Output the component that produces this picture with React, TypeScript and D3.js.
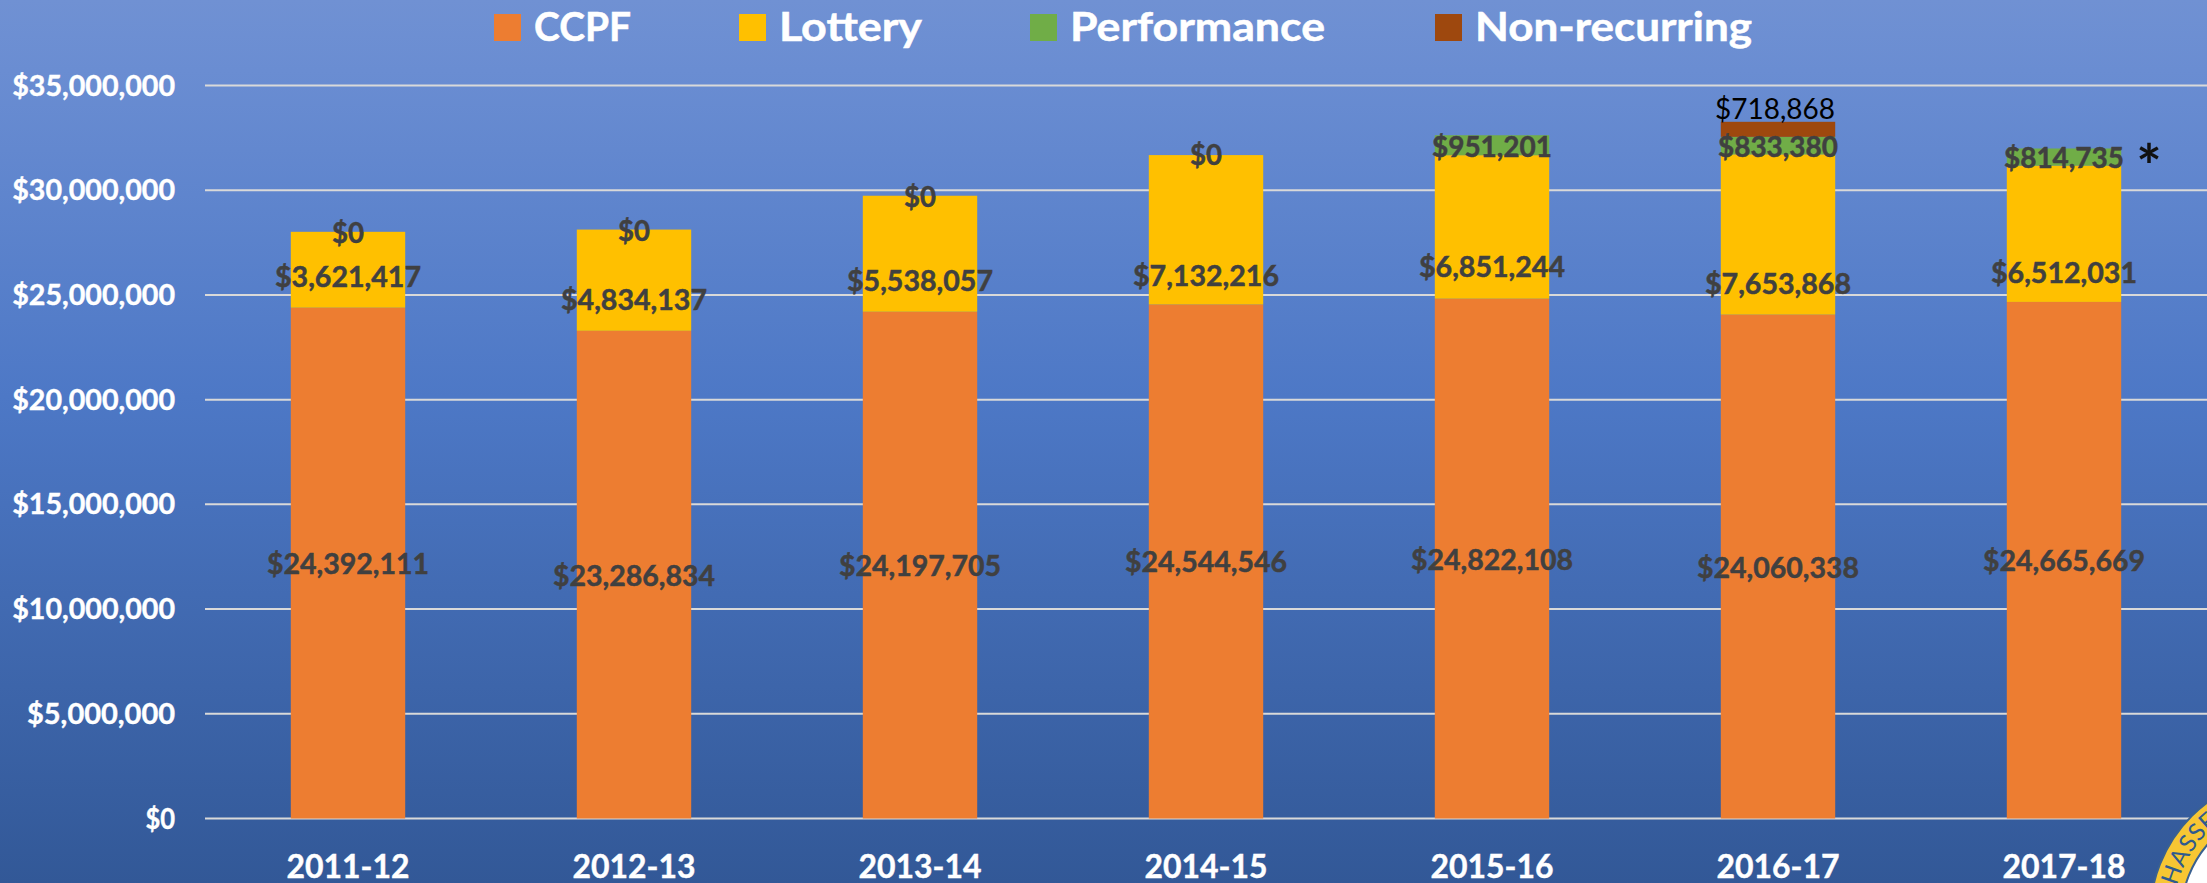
import React from "react";
import * as d3 from "d3";

const W = 2207, H = 883;
const years = ["2011-12", "2012-13", "2013-14", "2014-15", "2015-16", "2016-17", "2017-18"];
const ccpf = [24392111, 23286834, 24197705, 24544546, 24822108, 24060338, 24665669];
const lottery = [3621417, 4834137, 5538057, 7132216, 6851244, 7653868, 6512031];
const performance_ = [0, 0, 0, 0, 951201, 833380, 814735];
const nonRecurring = [0, 0, 0, 0, 0, 718868, 0];
const yTicks = [0, 5000000, 10000000, 15000000, 20000000, 25000000, 30000000, 35000000];
const seriesNames = ["CCPF", "Lottery", "Performance", "Non-recurring"];
const seriesColors = ["#ED7D31", "#FFC000", "#70AD47", "#9E480E"];
const legendX = [494, 739, 1030, 1435];
const legendTextW = [97, 143, 255, 277];
const lotteryNudge = [7, 20, 27, 46, 40, 50, 39];
const perfLabelY = [243, 241, 207, 165, 157, 157, 168];

const font = "Lato, 'Open Sans', sans-serif";
const money = (v: number) => "$" + d3.format(",")(v);

export default function App() {
  const x = d3.scaleBand<string>().domain(years).range([205, 2207]).paddingInner(0.6).paddingOuter(0.3);
  const y = d3.scaleLinear().domain([0, 35000000]).range([818.5, 85.5]);
  const rows = years.map((year, i) => ({ year, CCPF: ccpf[i], Lottery: lottery[i], Performance: performance_[i], "Non-recurring": nonRecurring[i] }));
  const stacked = d3.stack<any>().keys(seriesNames)(rows);
  const sealArc = d3.path();
  sealArc.arc(2292, 916.5, 119, (160 * Math.PI) / 180, (320 * Math.PI) / 180, false);

  return (
    <svg width={W} height={H} style={{ position: "absolute", left: 0, top: 0, display: "block" }} fontFamily={font}>
      <defs>
        <linearGradient id="bg" x1="0" y1="0" x2="0" y2="1">
          <stop offset="0" stopColor="#7091D3" />
          <stop offset="0.08" stopColor="#6A8DD2" />
          <stop offset="0.45" stopColor="#4D78C6" />
          <stop offset="1" stopColor="#325897" />
        </linearGradient>
        <path id="sealPath" d={sealArc.toString()} />
      </defs>
      <rect width={W} height={H} fill="url(#bg)" />

      {yTicks.map((t) => (
        <g key={t}>
          <line x1={205} x2={W} y1={y(t)} y2={y(t)} stroke="#D9D9D9" strokeWidth={2} />
          <text x={175} y={y(t) + 10} textAnchor="end" fontSize={28} fontWeight={700} fill="#fff" stroke="#fff" strokeWidth={0.4}
            textLength={money(t).length * 14.8} lengthAdjust="spacingAndGlyphs">{money(t)}</text>
        </g>
      ))}

      {stacked.map((s, si) => s.map((d, i) => d[1] > d[0] && (
        <rect key={si + "-" + i} x={x(years[i])} width={x.bandwidth()} y={y(d[1])} height={y(d[0]) - y(d[1])} fill={seriesColors[si]} />
      )))}

      {years.map((yr, i) => {
        const cx = x(yr)! + x.bandwidth() / 2;
        const base = ccpf[i];
        const top = base + lottery[i];
        const common = { x: cx, textAnchor: "middle" as const, fontSize: 29, fontWeight: 700, fill: "#404040", stroke: "#404040", strokeWidth: 0.5, lengthAdjust: "spacingAndGlyphs" as const };
        return (
          <g key={yr}>
            <text {...common} y={y(base / 2) + 11} textLength={162}>{money(ccpf[i])}</text>
            <text {...common} y={y(base + lottery[i] / 2) + 10 + lotteryNudge[i]} textLength={146}>{money(lottery[i])}</text>
            <text {...common} y={perfLabelY[i]} textLength={performance_[i] ? 120 : 32}>{money(performance_[i])}</text>
            {nonRecurring[i] > 0 && (
              <text x={cx - 3} y={y(top + performance_[i] + nonRecurring[i]) - 3} textAnchor="middle" fontSize={29} fill="#000"
                textLength={120} lengthAdjust="spacingAndGlyphs">{money(nonRecurring[i])}</text>
            )}
            <text x={cx} y={878} textAnchor="middle" fontSize={32} fontWeight={700} fill="#fff" stroke="#fff" strokeWidth={0.4}
              textLength={123} lengthAdjust="spacingAndGlyphs">{yr}</text>
          </g>
        );
      })}

      <text x={2149} y={188} fontSize={60} fontWeight={700} fill="#111" textAnchor="middle">*</text>

      {seriesNames.map((n, i) => (
        <g key={n}>
          <rect x={legendX[i]} y={14} width={27} height={27} fill={seriesColors[i]} />
          <text x={legendX[i] + 40} y={41} fontSize={40} fontWeight={700} fill="#fff" stroke="#fff" strokeWidth={0.5}
            textLength={legendTextW[i]} lengthAdjust="spacingAndGlyphs">{n}</text>
        </g>
      ))}

      <circle cx={2292} cy={916.5} r={142} fill="#F7C633" stroke="#3A6190" strokeWidth={2} />
      <circle cx={2292} cy={916.5} r={111} fill="#fff" stroke="#3A6190" strokeWidth={2} />
      <text fontSize={24} fill="#2F5A8E" letterSpacing={0.5}>
        <textPath href="#sealPath">TALLAHASSEE</textPath>
      </text>
    </svg>
  );
}
